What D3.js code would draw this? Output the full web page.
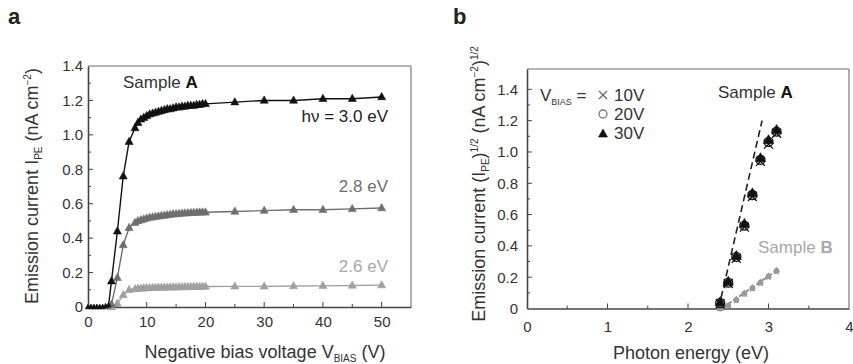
<!DOCTYPE html>
<html><head><meta charset="utf-8">
<script src="https://cdn.jsdelivr.net/npm/d3@7"></script>
<style>
html,body{margin:0;padding:0;background:#fff;}
svg{display:block;font-family:"Liberation Sans",Arial,sans-serif;}
</style></head>
<body><svg id="c" width="853" height="364"></svg>
<script>
// ---------- Panel a data ----------
const biasV = [0,0.5,1,1.5,2,2.5,3,3.5,4,5,6,7,8,8.5,9,9.5,10,10.5,11,11.5,12,12.5,13,13.5,14,14.5,15,15.5,16,16.5,17,17.5,18,18.5,19,19.5,20,25,30,35,40,45,50];
const ipe30 = [0,0,0,0,0,0,0.005,0.01,0.15,0.44,0.76,0.96,1.04,1.07,1.09,1.10,1.11,1.12,1.125,1.13,1.135,1.14,1.145,1.15,1.15,1.155,1.16,1.16,1.165,1.165,1.17,1.17,1.17,1.175,1.175,1.18,1.18,1.19,1.20,1.20,1.21,1.21,1.22];
const ipe28 = [0,0,0,0,0,0,0,0.002,0.015,0.17,0.36,0.46,0.49,0.50,0.505,0.51,0.515,0.52,0.522,0.525,0.527,0.53,0.532,0.535,0.537,0.54,0.54,0.542,0.544,0.545,0.546,0.547,0.548,0.549,0.55,0.55,0.55,0.555,0.56,0.565,0.565,0.57,0.575];
const ipe26 = [0,0,0,0,0,0,0,0,0,0.02,0.07,0.10,0.105,0.107,0.108,0.11,0.11,0.111,0.112,0.112,0.113,0.113,0.114,0.114,0.115,0.115,0.115,0.116,0.116,0.117,0.117,0.117,0.118,0.118,0.118,0.119,0.119,0.12,0.12,0.122,0.123,0.125,0.127];
const aXTicks = [0,10,20,30,40,50];
const aYTicks = [0,0.2,0.4,0.6,0.8,1.0,1.2,1.4];

// ---------- Panel b data ----------
const photonE = [2.4,2.5,2.6,2.7,2.8,2.9,3.0,3.1];
const sqrtA30 = [0.04,0.17,0.335,0.54,0.735,0.96,1.075,1.14];
const sqrtA20 = [0.035,0.165,0.33,0.53,0.725,0.95,1.065,1.13];
const sqrtA10 = [0.03,0.16,0.32,0.52,0.715,0.94,1.05,1.12];
const sqrtB30 = [0.0,0.02,0.06,0.10,0.135,0.17,0.21,0.245];
const sqrtB20 = [0.0,0.018,0.055,0.095,0.13,0.165,0.205,0.24];
const sqrtB10 = [0.0,0.015,0.05,0.09,0.125,0.16,0.2,0.235];
const fitAx = [2.38,2.92], fitAy = [0,1.2];
const fitBx = [2.42,3.12], fitBy = [0,0.25];
const bXTicks = [0,1,2,3,4];
const bYTicks = [0,0.2,0.4,0.6,0.8,1.0,1.2,1.4];

const svg = d3.select("#c");
const AX = "#444", FR = "#9a9a9a", TXT = "#333";
const fmtY = d => d === 0 ? "0" : d3.format(".1f")(d);

function tri(g, x, y, s, fill, stroke) {
  const h = s * 0.9;
  g.append("path").attr("d", `M${x},${y-h*0.62}L${x+s/2},${y+h*0.38}L${x-s/2},${y+h*0.38}Z`)
   .attr("fill", fill).attr("stroke", stroke || fill).attr("stroke-width", 0.6);
}

// ================= Panel a =================
{
  const x = d3.scaleLinear().domain([0,55]).range([88,411]);
  const y = d3.scaleLinear().domain([0,1.4]).range([307,66]);
  const g = svg.append("g");
  g.append("line").attr("x1",x(0)).attr("x2",x(55)).attr("y1",y(1.4)).attr("y2",y(1.4)).attr("stroke",FR).attr("stroke-width",1.6);
  g.append("line").attr("x1",x(55)).attr("x2",x(55)).attr("y1",y(1.4)).attr("y2",y(0)).attr("stroke",FR).attr("stroke-width",1.6);
  const xa = g.append("g").attr("transform",`translate(0,${y(0)})`)
    .call(d3.axisBottom(x).tickValues(aXTicks).tickSize(0).tickPadding(9).tickFormat(d3.format("d")));
  const ya = g.append("g").attr("transform",`translate(${x(0)},0)`)
    .call(d3.axisLeft(y).tickValues(aYTicks).tickSize(0).tickPadding(5).tickFormat(fmtY));
  [xa,ya].forEach(a=>{a.select(".domain").attr("stroke",AX).attr("stroke-width",1.6);
    a.selectAll("text").attr("font-size",15).attr("fill",TXT).attr("font-family","Liberation Sans, Arial, sans-serif");});
  d3.range(0,55,5).forEach(v=>{ if(v>0) g.append("line").attr("x1",x(v)).attr("x2",x(v)).attr("y1",y(0)).attr("y2",y(0)-(v%10===0?5:3)).attr("stroke",AX).attr("stroke-width",1);});
  d3.range(1,14).forEach(i=>{ const v=i/10; g.append("line").attr("x1",x(0)).attr("x2",x(0)+(i%2===0?5:3)).attr("y1",y(v)).attr("y2",y(v)).attr("stroke",AX).attr("stroke-width",1);});

  const line = d3.line().x(d=>x(d[0])).y(d=>y(d[1]));
  const series = [
    {vals: ipe26, col:"#a0a0a0"},
    {vals: ipe28, col:"#6e6e6e"},
    {vals: ipe30, col:"#111"}
  ];
  series.forEach(s=>{
    const pts = biasV.map((v,i)=>[v,s.vals[i]]);
    g.append("path").attr("d",line(pts)).attr("fill","none").attr("stroke",s.col).attr("stroke-width",1.4);
    pts.forEach(p=>tri(g,x(p[0]),y(p[1]), p[0]<=3.5?5:8, s.col));
  });

  const t1 = g.append("text").attr("x",123).attr("y",88).attr("font-size",17).attr("fill",TXT);
  t1.append("tspan").text("Sample ");
  t1.append("tspan").text("A").attr("font-weight","bold").attr("fill","#111");
  g.append("text").attr("x",388).attr("y",122).attr("text-anchor","end").attr("font-size",17).attr("fill","#222").text("hν = 3.0 eV");
  g.append("text").attr("x",388).attr("y",192).attr("text-anchor","end").attr("font-size",17).attr("fill","#6e6e6e").text("2.8 eV");
  g.append("text").attr("x",388).attr("y",272).attr("text-anchor","end").attr("font-size",17).attr("fill","#a8a8a8").text("2.6 eV");

  const xt = g.append("text").attr("x",265).attr("y",358).attr("text-anchor","middle").attr("font-size",18).attr("fill",TXT);
  xt.append("tspan").text("Negative bias voltage V");
  xt.append("tspan").text("BIAS").attr("font-size",10).attr("dy",4);
  xt.append("tspan").text(" (V)").attr("dy",-4);
  const yt = g.append("text").attr("transform","translate(38,186) rotate(-90)").attr("text-anchor","middle").attr("font-size",18).attr("fill",TXT);
  yt.append("tspan").text("Emission current I");
  yt.append("tspan").text("PE").attr("font-size",10).attr("dy",4);
  yt.append("tspan").text(" (nA cm").attr("dy",-4);
  yt.append("tspan").text("−2").attr("font-size",10).attr("dy",-7);
  yt.append("tspan").text(")").attr("dy",7);

  svg.append("text").attr("x",8).attr("y",24).attr("font-size",22).attr("font-weight","bold").attr("fill","#222").text("a");
}

// ================= Panel b =================
{
  const x = d3.scaleLinear().domain([0,4]).range([527,849]);
  const y = d3.scaleLinear().domain([0,1.53]).range([308.5,69]);
  const g = svg.append("g");
  g.append("line").attr("x1",x(0)).attr("x2",x(4)).attr("y1",y(1.53)).attr("y2",y(1.53)).attr("stroke",FR).attr("stroke-width",1.6);
  g.append("line").attr("x1",x(4)).attr("x2",x(4)).attr("y1",y(1.53)).attr("y2",y(0)).attr("stroke",FR).attr("stroke-width",1.6);
  const xa = g.append("g").attr("transform",`translate(0,${y(0)})`)
    .call(d3.axisBottom(x).tickValues(bXTicks).tickSize(0).tickPadding(13).tickFormat(d3.format("d")));
  const ya = g.append("g").attr("transform",`translate(${x(0)},0)`)
    .call(d3.axisLeft(y).tickValues(bYTicks).tickSize(0).tickPadding(9).tickFormat(fmtY));
  [xa,ya].forEach(a=>{a.select(".domain").attr("stroke",AX).attr("stroke-width",1.6);
    a.selectAll("text").attr("font-size",15).attr("fill",TXT).attr("font-family","Liberation Sans, Arial, sans-serif");});
  d3.range(1,8).forEach(i=>{ const v=i/2; g.append("line").attr("x1",x(v)).attr("x2",x(v)).attr("y1",y(0)).attr("y2",y(0)-(i%2===0?5:3)).attr("stroke",AX).attr("stroke-width",1);});
  d3.range(1,15).forEach(i=>{ const v=i/10; g.append("line").attr("x1",x(0)).attr("x2",x(0)+(i%2===0?5:3)).attr("y1",y(v)).attr("y2",y(v)).attr("stroke",AX).attr("stroke-width",1);});

  const line = d3.line().x(d=>x(d[0])).y(d=>y(d[1]));
  g.append("path").attr("d",line(fitBx.map((v,i)=>[v,fitBy[i]]))).attr("fill","none").attr("stroke","#8a8a8a").attr("stroke-width",1.8).attr("stroke-dasharray","5,2");
  g.append("path").attr("d",line(fitAx.map((v,i)=>[v,fitAy[i]]))).attr("fill","none").attr("stroke","#222").attr("stroke-width",1.6).attr("stroke-dasharray","7,4");

  function markers(vals10, vals20, vals30, col, sz) {
    photonE.forEach((e,i)=>{
      const px=x(e);
      let py=y(vals10[i]);
      g.append("path").attr("d",`M${px-sz/2},${py-sz/2}L${px+sz/2},${py+sz/2}M${px-sz/2},${py+sz/2}L${px+sz/2},${py-sz/2}`).attr("stroke",col).attr("stroke-width",1.3);
      py=y(vals20[i]);
      g.append("circle").attr("cx",px).attr("cy",py).attr("r",sz/2).attr("fill","none").attr("stroke",col).attr("stroke-width",1.3);
      tri(g,px,y(vals30[i]),sz+1,col);
    });
  }
  markers(sqrtB10,sqrtB20,sqrtB30,"#999",4.5);
  markers(sqrtA10,sqrtA20,sqrtA30,"#111",9);

  const lg = g.append("text").attr("x",540).attr("y",101).attr("font-size",17).attr("fill",TXT);
  lg.append("tspan").text("V");
  lg.append("tspan").text("BIAS").attr("font-size",9).attr("dy",4);
  lg.append("tspan").text(" =").attr("dy",-4);
  const lx = 603;
  g.append("path").attr("d",`M${lx-4},${95-4}L${lx+4},${95+4}M${lx-4},${95+4}L${lx+4},${95-4}`).attr("stroke","#666").attr("stroke-width",1.3);
  g.append("circle").attr("cx",lx).attr("cy",114).attr("r",4).attr("fill","none").attr("stroke","#777").attr("stroke-width",1.3);
  tri(g,lx,134,9,"#111");
  g.append("text").attr("x",614).attr("y",101).attr("font-size",17).attr("fill",TXT).text("10V");
  g.append("text").attr("x",614).attr("y",120).attr("font-size",17).attr("fill",TXT).text("20V");
  g.append("text").attr("x",614).attr("y",139).attr("font-size",17).attr("fill",TXT).text("30V");

  const sa = g.append("text").attr("x",718).attr("y",98).attr("font-size",17).attr("fill",TXT);
  sa.append("tspan").text("Sample ");
  sa.append("tspan").text("A").attr("font-weight","bold").attr("fill","#111");
  const sb = g.append("text").attr("x",758).attr("y",253).attr("font-size",17).attr("fill","#a8a8a8");
  sb.append("tspan").text("Sample ");
  sb.append("tspan").text("B").attr("font-weight","bold");

  g.append("text").attr("x",691).attr("y",359).attr("text-anchor","middle").attr("font-size",18).attr("fill",TXT).text("Photon energy (eV)");
  const yt = g.append("text").attr("transform","translate(485,184) rotate(-90)").attr("text-anchor","middle").attr("font-size",18).attr("fill",TXT);
  yt.append("tspan").text("Emission current (I");
  yt.append("tspan").text("PE").attr("font-size",10).attr("dy",4);
  yt.append("tspan").text(")").attr("dy",-4);
  yt.append("tspan").text("1/2").attr("font-size",10).attr("dy",-7);
  yt.append("tspan").text(" (nA cm").attr("dy",7);
  yt.append("tspan").text("−2").attr("font-size",10).attr("dy",-7);
  yt.append("tspan").text(")").attr("dy",7);
  yt.append("tspan").text("1/2").attr("font-size",10).attr("dy",-7);

  svg.append("text").attr("x",453).attr("y",24).attr("font-size",22).attr("font-weight","bold").attr("fill","#222").text("b");
}
</script></body></html>
